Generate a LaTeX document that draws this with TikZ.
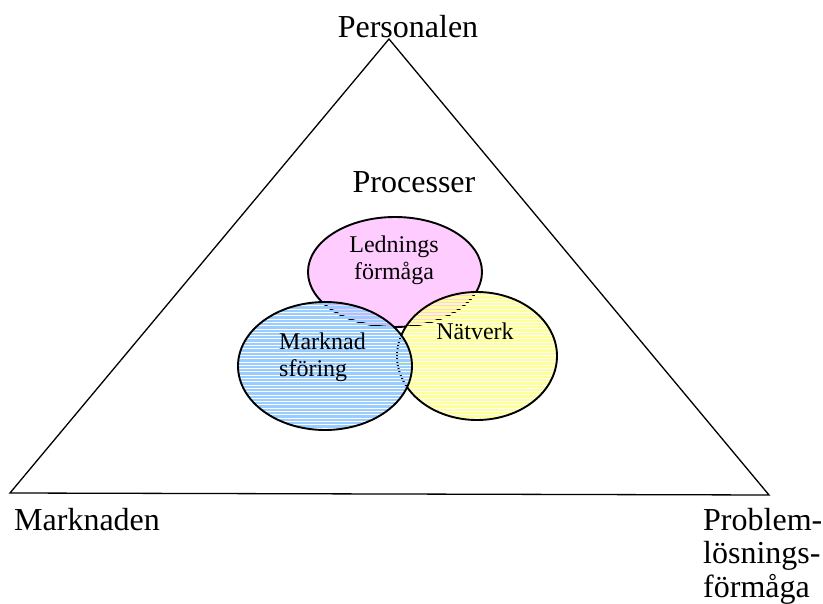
\documentclass[tikz,border=0pt]{standalone}
\usepackage{fontspec}
\setmainfont{Liberation Serif}
\usepackage{xcolor}
\usepackage{tikz}
\usetikzlibrary{positioning}

\definecolor{ledpink}{RGB}{255,204,255}
\definecolor{markblue}{RGB}{153,204,255}
\definecolor{natyellow}{RGB}{255,255,153}

\tikzset{
  bigtext/.style={font=\fontsize{32}{33.5}\selectfont, inner sep=0pt},
  smalltext/.style={font=\fontsize{24}{27}\selectfont, inner sep=0pt},
  ring/.style={line width=1.9pt},
}

\begin{document}
\begin{tikzpicture}[x=1pt, y=-1pt]
				\useasboundingbox (0,0) rectangle (823,604);
				% triangle
				\coordinate (top) at (389,39);
				\coordinate (left) at (10,493);
				\coordinate (right) at (769,495);
				\draw[line width=1.3pt, line join=miter] (top) -- (right) -- (left) -- cycle;
				\node[bigtext, anchor=base] (pers) at (408,38) {Personalen};
				\node[bigtext, anchor=base west] (mark) at (14,530) {Marknaden};
				\node[bigtext, anchor=base west, align=left] (probl) at (703,597) {Problem-\\lösnings-\\förmåga};
				\node[bigtext, anchor=base] (proc) at (414,193) {Processer};
				% Ledningsförmåga
				\fill[ledpink] (395,272) ellipse [x radius=87, y radius=55];
				\draw[ring] (395,272) ellipse [x radius=87, y radius=55];
				% Nätverk, striped
				\begin{scope}
					\clip (477,356) ellipse [x radius=80, y radius=64];
					\foreach \k in {0,...,40}
						\draw[natyellow, line width=2.3pt] (390,{291+3.3*\k}) -- (560,{291+3.3*\k});
				\end{scope}
				\draw[ring] (477,356) ellipse [x radius=80, y radius=64];
				% Marknadsföring, striped
				\begin{scope}
					\clip (325,366) ellipse [x radius=87, y radius=64];
					\foreach \k in {0,...,40}
						\draw[markblue, line width=2.3pt] (230,{301+3.3*\k}) -- (420,{301+3.3*\k});
				\end{scope}
				\draw[ring] (325,366) ellipse [x radius=87, y radius=64];
				\node[smalltext, anchor=base, align=center] (led) at (394,280) {Lednings\\förmåga};
				\node[smalltext, anchor=base west, align=left] (mfor) at (279,377) {Marknad\\sföring};
				\node[smalltext, anchor=base] (nat) at (475,340) {Nätverk};
			\end{tikzpicture}
\end{document}
